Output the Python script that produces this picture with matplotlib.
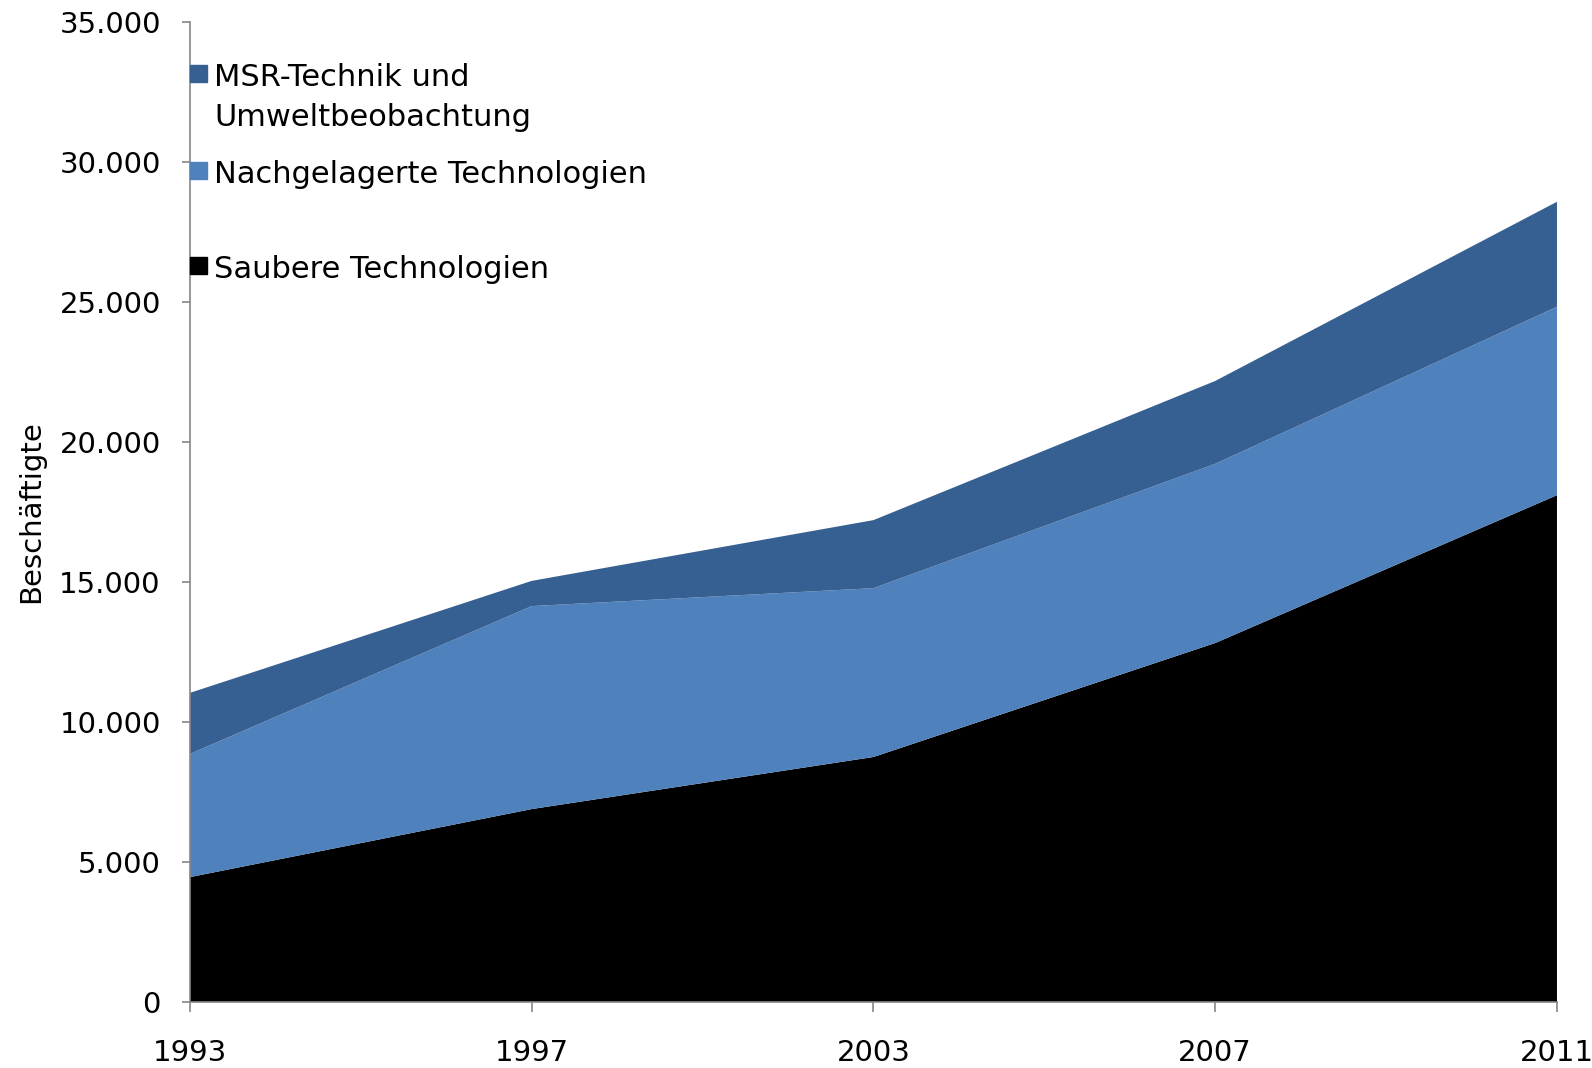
import matplotlib.pyplot as plt
import matplotlib.patches as mpatches
import numpy as np

# Daten (Beschäftigte nach Bereich)
jahre = ['1993', '1997', '2003', '2007', '2011']
saubere = [4460, 6890, 8750, 12820, 18100]
nachgelagerte = [4400, 7250, 6030, 6400, 6730]
msr = [2180, 900, 2430, 2960, 3750]

namen = ['Saubere Technologien', 'Nachgelagerte Technologien',
         'MSR-Technik und\nUmweltbeobachtung']
farben = ['#000000', '#4F81BD', '#376092']

plt.rcParams['font.family'] = ['DejaVu Sans']

fig = plt.figure(figsize=(15.92, 10.68), dpi=100)
ax = fig.add_axes([0.1193, 0.0618, 0.8587, 0.9176])

x = np.arange(len(jahre))
ax.stackplot(x, saubere, nachgelagerte, msr, colors=farben, linewidth=0)

ax.set_xlim(0, len(jahre) - 1)
ax.set_ylim(0, 35000)
ax.set_xticks(x)
ax.set_xticklabels(jahre)
ax.set_yticks(np.arange(0, 35001, 5000))
ax.set_yticklabels([f'{v:,}'.replace(',', '.') for v in range(0, 35001, 5000)])

for s in ['top', 'right']:
    ax.spines[s].set_visible(False)
for s in ['left', 'bottom']:
    ax.spines[s].set_color('#868686')
    ax.spines[s].set_linewidth(1.2)

ax.tick_params(axis='y', length=6, width=1.2, color='#868686', pad=15, labelsize=21)
ax.tick_params(axis='x', length=7, width=1.2, color='#868686', pad=20, labelsize=21)
ax.set_ylabel('Beschäftigte', fontsize=21, labelpad=10)

# Legende (manuell, wie im Original mit ungleichen Abständen)
leg_y = [0.7388, 0.8357, 0.9347]
sq_w, sq_h = 0.0124, 0.0173
for i, (name, farbe) in enumerate(zip(namen, farben)):
    yb = leg_y[i]
    ax.add_patch(mpatches.Rectangle((0.0, yb + 0.0045), sq_w, sq_h, color=farbe,
                                    transform=ax.transAxes, clip_on=False, zorder=5))
    zeilen = name.split('\n')
    for j, z in enumerate(zeilen):
        ax.text(0.0176, yb - j * 0.0408, z, transform=ax.transAxes,
                fontsize=22, va='baseline', ha='left')

fig.savefig('out.png', dpi=100)
